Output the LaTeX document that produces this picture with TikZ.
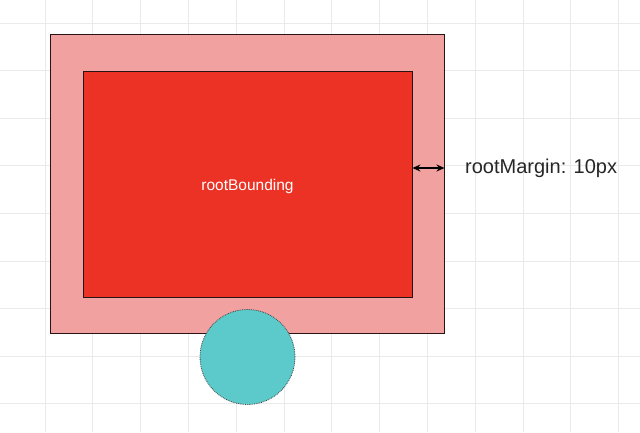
\documentclass[tikz,border=0pt]{standalone}
\usepackage{fontspec}
\setmainfont{Liberation Sans}
\usetikzlibrary{arrows.meta}
\definecolor{gridc}{RGB}{234,234,234}
\definecolor{outerc}{RGB}{241,161,159}
\definecolor{innerc}{RGB}{236,50,36}
\definecolor{circc}{RGB}{92,201,202}
\definecolor{edgec}{RGB}{40,20,20}
\tikzset{
  box/.style={draw=edgec, line width=0.9pt, inner sep=0pt},
  gridline/.style={draw=gridc, line width=0.8pt},
  lbl/.style={font=\fontsize{20}{24}\selectfont, text=black!85, anchor=west, inner sep=0pt},
}
\begin{document}
\begin{tikzpicture}[x=1pt,y=-1pt]
\useasboundingbox (0,0) rectangle (640,432);
\fill[white] (0,0) rectangle (640,432);
\foreach \i in {0,...,12} {
  \draw[gridline] ({45+47.8*\i},0) -- ({45+47.8*\i},432);
}
\foreach \j in {0,...,8} {
  \draw[gridline] (0,{23+47.6*\j}) -- (640,{23+47.6*\j});
}
\node[box, fill=outerc, minimum width=394pt, minimum height=299pt] (outer) at (247,183.5) {};
\node[box, fill=innerc, minimum width=329pt, minimum height=226pt] (inner) at (247.5,184) {};
\node[text=white, font=\fontsize{15.5}{18}\selectfont, inner sep=0pt] (txt) at (247.5,186) {rootBounding};
\node[circle, draw=black!75, densely dotted, line width=0.8pt, fill=circc, minimum size=95pt, inner sep=0pt] (circ) at (247.5,357) {};
\coordinate (a1) at (inner.east |- 0,168);
\coordinate (a2) at (outer.east |- 0,168);
\draw[{Stealth[length=8pt,width=7pt]}-{Stealth[length=8pt,width=7pt]}, line width=1.1pt, black] (a1) -- (a2);
\node[lbl] (margin) at (465,168) {rootMargin: 10px};
\end{tikzpicture}
\end{document}
